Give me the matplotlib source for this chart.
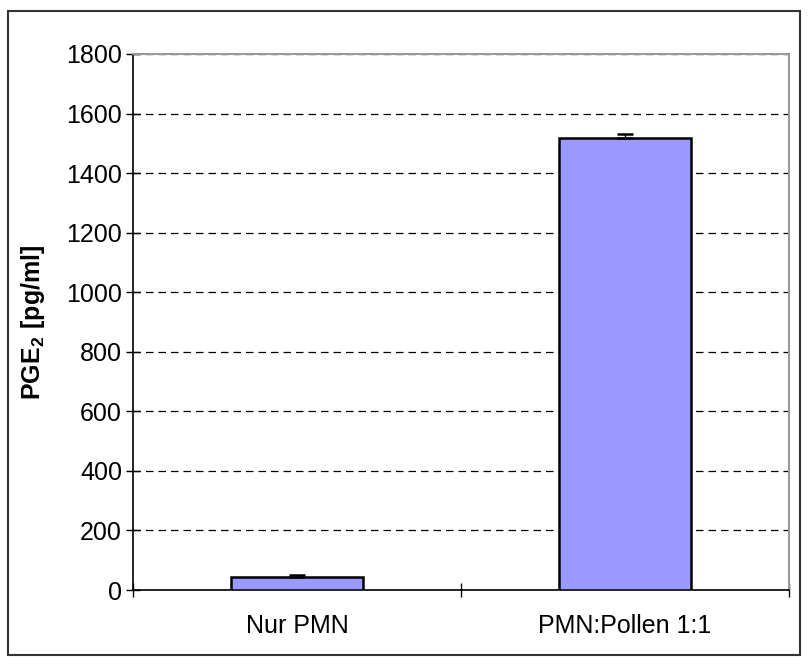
import matplotlib.pyplot as plt
from matplotlib.patches import Rectangle

plt.rcParams['font.family'] = ['Liberation Sans', 'DejaVu Sans']
plt.rcParams['mathtext.fontset'] = 'custom'
plt.rcParams['mathtext.rm'] = 'Liberation Sans'
plt.rcParams['mathtext.bf'] = 'Liberation Sans:bold'

categories = ['Nur PMN', 'PMN:Pollen 1:1']
values = [43, 1518]
errors = [6, 12]
yticks = list(range(0, 1801, 200))

fig = plt.figure(figsize=(8.09, 6.64), dpi=100)
ax = fig.add_axes([133 / 809, 1 - 590 / 664, (789 - 133) / 809, (590 - 54) / 664])

# outer frame around the whole chart
fig.patches.append(Rectangle((8 / 809, 1 - 655 / 664), 792 / 809, 644 / 664,
                             transform=fig.transFigure, fill=False,
                             edgecolor='#333333', linewidth=1.5))

x = [0.5, 1.5]
ax.bar(x, values, width=0.4, color='#9999FF', edgecolor='black', linewidth=1.8,
       zorder=3)
ax.errorbar(x, values, yerr=[[0, 0], errors], fmt='none', ecolor='black',
            elinewidth=1, capsize=5.5, capthick=1.8, zorder=4)

ax.set_xlim(0, 2)
ax.set_ylim(0, 1800)
ax.set_yticks(yticks)
ax.set_xticks([0, 1, 2])
ax.set_xticklabels([])
ax.set_xticks(x, minor=True)
ax.set_xticklabels(categories, minor=True)
ax.tick_params(axis='x', which='minor', length=0, pad=17, labelsize=18)
ax.tick_params(axis='x', which='major', direction='inout', length=10, width=1)
ax.tick_params(axis='y', direction='inout', length=10, width=1, labelsize=18, pad=3)

ax.yaxis.grid(True, linestyle=(0, (6, 4)), color='black', linewidth=0.9, zorder=0)
for s in ['top', 'right']:
    ax.spines[s].set_color('#999999')
    ax.spines[s].set_linewidth(1.5)
for s in ['left', 'bottom']:
    ax.spines[s].set_color('black')
    ax.spines[s].set_linewidth(1.2)

ax.set_ylabel(r'$\mathbf{PGE_2\ [pg/ml]}$', fontsize=18, labelpad=14)

fig.savefig('out.png', dpi=100)
